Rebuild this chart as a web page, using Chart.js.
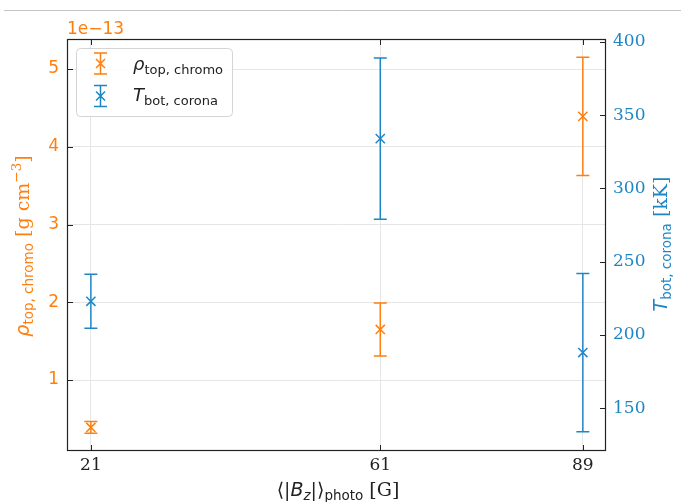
<!DOCTYPE html>
<html>
<head>
<meta charset="utf-8">
<script src="https://cdn.jsdelivr.net/npm/chart.js@4.4.1/dist/chart.umd.min.js"></script>
<style>
    html, body { margin: 0; padding: 0; background: #fff; }
    #wrap { width: 681px; height: 502px; position: relative; }
</style>
</head>
<body>
<div id="wrap"><canvas id="chart" width="681" height="502"></canvas></div>
<script>
// Data
const fieldStrength = [21, 61, 89];            // <|Bz|>_photo [G]
const rhoValues = [0.39, 1.65, 4.39];          // x 1e-13 g cm^-3
const rhoErrors = [0.075, 0.34, 0.76];
const tempValues = [223, 334, 188];            // kK
const tempErrors = [18.5, 55, 54];
const xTicks = [21, 61, 89];
const rhoTicks = [1, 2, 3, 4, 5];
const tempTicks = [150, 200, 250, 300, 350, 400];

const ORANGE = '#ff7f0e';
const BLUE = '#1f86c6';
const SANS = '"DejaVu Sans"';
const SERIF = '"DejaVu Serif"';

// draw a row of text runs (for sub/superscripts), optionally rotated
function drawRuns(ctx, runs, x, y, angle, color) {
    ctx.save();
    ctx.translate(x, y);
    ctx.rotate(angle);
    ctx.fillStyle = color;
    ctx.textBaseline = 'alphabetic';
    ctx.textAlign = 'left';
    let total = 0;
    runs.forEach(r => { ctx.font = r.font; r.w = ctx.measureText(r.text).width; total += r.w; });
    let cx = -total / 2;
    runs.forEach(r => {
        ctx.font = r.font;
        ctx.fillText(r.text, cx, r.dy || 0);
        cx += r.w;
    });
    ctx.restore();
}

function drawErrorIcon(ctx, x, y, half, color) {
    ctx.strokeStyle = color;
    ctx.lineWidth = 1.5;
    ctx.beginPath();
    ctx.moveTo(x, y - half); ctx.lineTo(x, y + half);
    ctx.moveTo(x - 6.5, y - half); ctx.lineTo(x + 6.5, y - half);
    ctx.moveTo(x - 6.5, y + half); ctx.lineTo(x + 6.5, y + half);
    ctx.moveTo(x - 4.5, y - 4.5); ctx.lineTo(x + 4.5, y + 4.5);
    ctx.moveTo(x - 4.5, y + 4.5); ctx.lineTo(x + 4.5, y - 4.5);
    ctx.stroke();
}

const errorBars = {
    id: 'errorBars',
    beforeDatasetsDraw(chart) {
        const ctx = chart.ctx;
        const xs = chart.scales.x;
        ctx.save();
        chart.data.datasets.forEach(ds => {
            const ys = chart.scales[ds.yAxisID];
            ctx.strokeStyle = ds.borderColor;
            ctx.lineWidth = 1.5;
            ds.data.forEach((p, j) => {
                const px = xs.getPixelForValue(p.x);
                const top = ys.getPixelForValue(p.y + ds.errors[j]);
                const bot = ys.getPixelForValue(p.y - ds.errors[j]);
                ctx.beginPath();
                ctx.moveTo(px, top); ctx.lineTo(px, bot);
                ctx.moveTo(px - 6.5, top); ctx.lineTo(px + 6.5, top);
                ctx.moveTo(px - 6.5, bot); ctx.lineTo(px + 6.5, bot);
                ctx.stroke();
            });
        });
        ctx.restore();
    }
};

const decorations = {
    id: 'decorations',
    afterDraw(chart) {
        const ctx = chart.ctx;
        const a = chart.chartArea;
        const xs = chart.scales.x, yl = chart.scales.y, yr = chart.scales.y2;
        ctx.save();

        // separator line at the top
        ctx.strokeStyle = '#c4c4c4';
        ctx.lineWidth = 1;
        ctx.beginPath();
        ctx.moveTo(4, 10.5); ctx.lineTo(681, 10.5);
        ctx.stroke();

        // frame
        ctx.strokeStyle = '#222';
        ctx.lineWidth = 1.2;
        ctx.strokeRect(Math.round(a.left) + 0.5, Math.round(a.top) + 0.5,
            Math.round(a.right - a.left) - 1, Math.round(a.bottom - a.top) - 1);

        // inward ticks
        ctx.lineWidth = 1;
        ctx.beginPath();
        xTicks.forEach(v => {
            const px = Math.round(xs.getPixelForValue(v)) + 0.5;
            ctx.moveTo(px, a.bottom); ctx.lineTo(px, a.bottom - 6);
            ctx.moveTo(px, a.top); ctx.lineTo(px, a.top + 6);
        });
        rhoTicks.forEach(v => {
            const py = Math.round(yl.getPixelForValue(v)) + 0.5;
            ctx.moveTo(a.left, py); ctx.lineTo(a.left + 6, py);
        });
        tempTicks.forEach(v => {
            const py = Math.round(yr.getPixelForValue(v)) + 0.5;
            ctx.moveTo(a.right, py); ctx.lineTo(a.right - 6, py);
        });
        ctx.stroke();

        // offset text for the left axis
        ctx.fillStyle = ORANGE;
        ctx.font = '17px ' + SANS;
        ctx.textAlign = 'left';
        ctx.textBaseline = 'alphabetic';
        ctx.fillText('1e\u221213', 67, 34);

        // axis titles
        drawRuns(ctx, [
            { text: '\u03c1', font: 'italic 19px ' + SANS },
            { text: 'top, chromo', font: '13.5px ' + SANS, dy: 4 },
            { text: ' [g cm', font: '19px ' + SERIF },
            { text: '\u22123', font: '13.5px ' + SERIF, dy: -8 },
            { text: ']', font: '19px ' + SERIF }
        ], 29, 246, -Math.PI / 2, ORANGE);

        drawRuns(ctx, [
            { text: 'T', font: 'italic 19px ' + SANS },
            { text: 'bot, corona', font: '13.5px ' + SANS, dy: 4 },
            { text: ' [kK]', font: '19px ' + SERIF }
        ], 667, 244, -Math.PI / 2, BLUE);

        drawRuns(ctx, [
            { text: '\u27e8|', font: '19px ' + SERIF },
            { text: 'B', font: 'italic 19px ' + SANS },
            { text: 'z', font: 'italic 13.5px ' + SANS, dy: 4 },
            { text: '|\u27e9', font: '19px ' + SERIF },
            { text: 'photo', font: '13.5px ' + SANS, dy: 4 },
            { text: ' [G]', font: '19px ' + SERIF }
        ], 338, 496, 0, '#222');

        // legend
        ctx.fillStyle = 'rgba(255,255,255,0.85)';
        ctx.strokeStyle = '#d4d4d4';
        ctx.lineWidth = 1;
        ctx.beginPath();
        ctx.roundRect(76.5, 48.5, 156, 68, 4);
        ctx.fill();
        ctx.stroke();

        drawErrorIcon(ctx, 100.5, 63.5, 10.5, ORANGE);
        drawErrorIcon(ctx, 100.5, 96, 10.5, BLUE);
        ctx.fillStyle = '#222';
        ctx.font = 'italic 18px ' + SANS;
        ctx.fillText('\u03c1', 133, 70);
        let w = ctx.measureText('\u03c1').width;
        ctx.font = '13px ' + SANS;
        ctx.fillText('top, chromo', 133 + w, 74);
        ctx.font = 'italic 18px ' + SANS;
        ctx.fillText('T', 133, 101);
        w = ctx.measureText('T').width;
        ctx.font = '13px ' + SANS;
        ctx.fillText('bot, corona', 133 + w, 105);

        ctx.restore();
    }
};

const rhoPoints = fieldStrength.map((x, i) => ({ x: x, y: rhoValues[i] }));
const tempPoints = fieldStrength.map((x, i) => ({ x: x, y: tempValues[i] }));

new Chart(document.getElementById('chart').getContext('2d'), {
    type: 'scatter',
    data: {
        datasets: [{
            label: 'rho',
            data: rhoPoints,
            errors: rhoErrors,
            yAxisID: 'y',
            borderColor: ORANGE,
            backgroundColor: ORANGE,
            pointStyle: 'crossRot',
            pointRadius: 6.5,
            pointBorderWidth: 1.5
        }, {
            label: 'T',
            data: tempPoints,
            errors: tempErrors,
            yAxisID: 'y2',
            borderColor: BLUE,
            backgroundColor: BLUE,
            pointStyle: 'crossRot',
            pointRadius: 6.5,
            pointBorderWidth: 1.5
        }]
    },
    options: {
        responsive: false,
        animation: false,
        devicePixelRatio: 1,
        layout: { padding: { top: 39, left: 0, right: 0, bottom: 0 } },
        plugins: {
            legend: { display: false },
            tooltip: { enabled: false }
        },
        scales: {
            x: {
                type: 'linear',
                min: 17.7,
                max: 92.2,
                afterBuildTicks: s => { s.ticks = xTicks.map(v => ({ value: v })); },
                afterFit: s => { s.height = 51; },
                ticks: {
                    color: '#222',
                    padding: 4,
                    font: { family: 'DejaVu Serif', size: 17 }
                },
                grid: { color: '#e6e6e6', drawTicks: false },
                border: { display: false }
            },
            y: {
                type: 'linear',
                position: 'left',
                min: 0.087,
                max: 5.386,
                afterBuildTicks: s => { s.ticks = rhoTicks.map(v => ({ value: v })); },
                afterFit: s => { s.width = 67; },
                ticks: {
                    color: ORANGE,
                    padding: 8,
                    font: { family: 'DejaVu Sans', size: 17 }
                },
                grid: { color: '#e6e6e6', drawTicks: false },
                border: { display: false }
            },
            y2: {
                type: 'linear',
                position: 'right',
                min: 120.8,
                max: 402,
                afterBuildTicks: s => { s.ticks = tempTicks.map(v => ({ value: v })); },
                afterFit: s => { s.width = 75; },
                ticks: {
                    color: BLUE,
                    padding: 7,
                    font: { family: 'DejaVu Serif', size: 17 }
                },
                grid: { display: false, drawTicks: false },
                border: { display: false }
            }
        }
    },
    plugins: [errorBars, decorations]
});
</script>
</body>
</html>
